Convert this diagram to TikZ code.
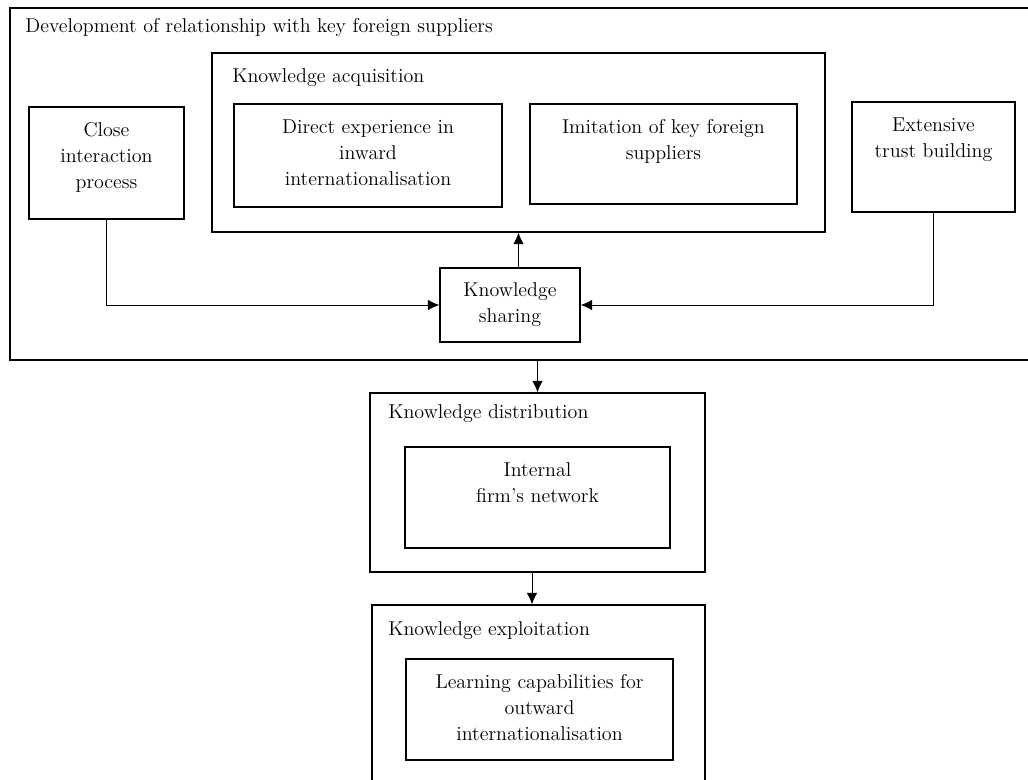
\documentclass[tikz,border=0pt]{standalone}
\usepackage{tikz}
\usetikzlibrary{arrows.meta,positioning,calc}

\tikzset{
  box/.style={draw, line width=0.75pt, inner sep=0pt},
  txt/.style={align=center, inner sep=0pt, font=\fontsize{11.4}{14.8}\selectfont},
  ttl/.style={anchor=west, inner sep=0pt, font=\fontsize{11.4}{14.8}\selectfont},
  flow/.style={line width=0.55pt, -{Latex[length=6.5pt,width=6pt]}}
}

\begin{document}
\begin{tikzpicture}[x=0.02cm, y=-0.02cm]
\useasboundingbox (0,0) rectangle (1028,780);
% Caixas externas
\node[box, minimum width=20.44cm, minimum height=7.04cm] (outer) at (521,184) {};
\node[box, minimum width=12.26cm, minimum height=3.58cm] (acq) at (518.5,142.5) {};
\node[box, minimum width=6.7cm, minimum height=3.58cm] (dist) at (537.5,482.5) {};
\node[box, minimum width=6.66cm, minimum height=3.7cm] (expl) at (538.5,697.5) {};
% Titulos
\node[ttl] (outert) at (25,28) {Development of relationship with key foreign suppliers};
\node[ttl] (acqt) at (232,78) {Knowledge acquisition};
\node[ttl] (distt) at (388,414) {Knowledge distribution};
\node[ttl] (explt) at (388,631) {Knowledge exploitation};
% Caixas internas
\node[box, minimum width=3.1cm, minimum height=2.24cm] (close) at (106.5,163) {};
\node[box, minimum width=5.36cm, minimum height=2.06cm] (direct) at (368,155.5) {};
\node[box, minimum width=5.34cm, minimum height=2.0cm] (imit) at (663.5,154) {};
\node[box, minimum width=3.26cm, minimum height=2.2cm] (trust) at (933.5,157) {};
\node[box, minimum width=2.8cm, minimum height=1.48cm] (share) at (510,305) {};
\node[box, minimum width=5.3cm, minimum height=2.02cm] (net) at (537.5,497.5) {};
\node[box, minimum width=5.34cm, minimum height=2.02cm] (learn) at (539.5,709.5) {};
% Textos
\node[txt, below=9pt of close.north] (closet) {Close\\interaction\\process};
\node[txt, below=9pt of direct.north] (directt) {Direct experience in\\inward\\internationalisation};
\node[txt, below=9pt of imit.north] (imitt) {Imitation of key foreign\\suppliers};
\node[txt, below=9pt of trust.north] (trustt) {Extensive\\trust building};
\node[txt] (sharet) at (share) {Knowledge\\sharing};
\node[txt, below=9pt of net.north] (nett) {Internal\\firm's network};
\node[txt, below=9pt of learn.north] (learnt) {Learning capabilities for\\outward\\internationalisation};
% Ligacoes
\coordinate (down) at (532,572);
\draw[flow] (close.south) |- (share.west);
\draw[flow] (trust.south) |- (share.east);
\draw[flow] (share.north -| acq.south) -- (acq.south);
\draw[flow] (outer.south -| dist.north) -- (dist.north);
\draw[flow] (down) -- (down |- expl.north);
\end{tikzpicture}
\end{document}
